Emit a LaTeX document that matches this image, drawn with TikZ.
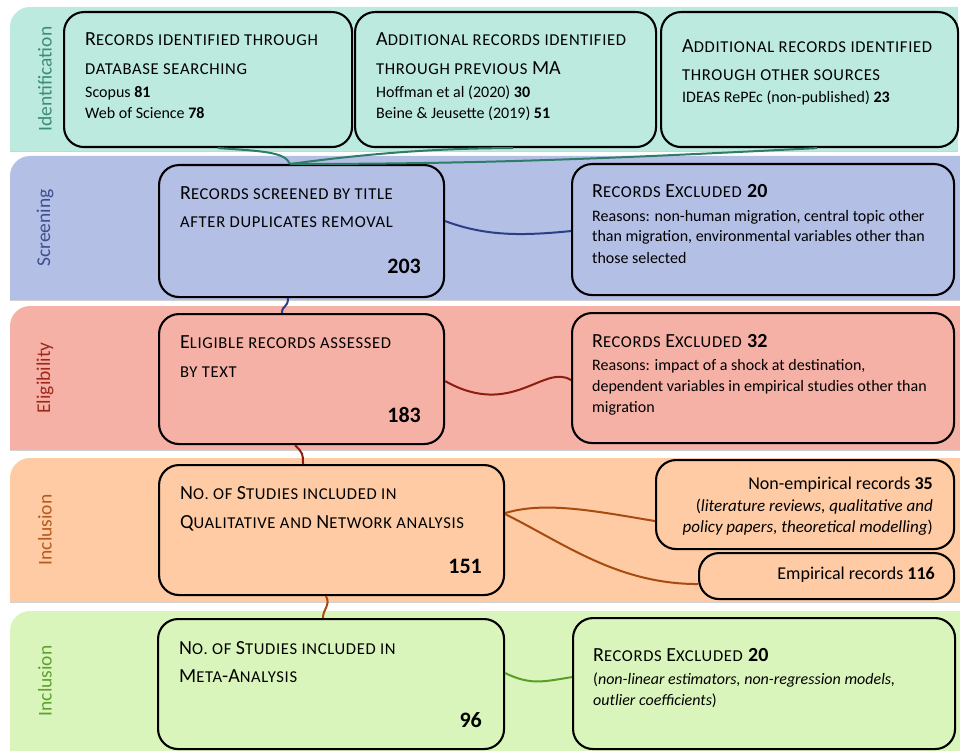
\documentclass[tikz,border=0pt]{standalone}
\usepackage{fontspec}
\setmainfont{Carlito}
\newfontfamily\scfam[LetterSpace=4]{Carlito}
\usetikzlibrary{calc}
\newcommand\fsc[1]{{\scfam\fontsize{16.6}{20}\selectfont #1}}
\definecolor{idband}{HTML}{BDEADF}
\definecolor{idtext}{HTML}{3D8C76}
\definecolor{idline}{HTML}{2E7D67}
\definecolor{scband}{HTML}{B4BFE6}
\definecolor{sctext}{HTML}{3C4F8F}
\definecolor{scline}{HTML}{2B3F86}
\definecolor{elband}{HTML}{F6B1A7}
\definecolor{eltext}{HTML}{9E2A1E}
\definecolor{elline}{HTML}{8B1E10}
\definecolor{inband}{HTML}{FECBA4}
\definecolor{intext}{HTML}{B45A1E}
\definecolor{inline}{HTML}{A84B0F}
\definecolor{maband}{HTML}{DAF5BC}
\definecolor{matext}{HTML}{5DA12E}
\definecolor{maline}{HTML}{5A9E25}
\begin{document}
\begin{tikzpicture}[x=1pt,y=-1pt,
  band/.style={draw=black!18, line width=0.8pt},
  box/.style={draw=black, line width=2.1pt, rounded corners=20pt, anchor=north west, inner sep=0pt},
  ttl/.style={anchor=base west, inner sep=0pt, font=\fontsize{20}{24}\selectfont},
  txt/.style={anchor=base west, inner sep=0pt, font=\fontsize{16}{19}\selectfont},
  txtr/.style={anchor=base east, inner sep=0pt, font=\fontsize{18}{21}\selectfont},
  txtri/.style={anchor=base east, inner sep=0pt, font=\fontsize{17}{20}\selectfont},
  num/.style={anchor=base east, inner sep=0pt, font=\fontsize{22}{26}\selectfont\bfseries},
  lab/.style={rotate=90, inner sep=0pt, font=\fontsize{19.5}{23}\selectfont},
  conn/.style={line width=2pt}]
\useasboundingbox (0,0) rectangle (960,751);
% bands
\fill[idband] (10,151) [rounded corners=20pt] -- (10,7) [sharp corners] -- (958,7) -- (958,151) -- cycle;
\draw[band] (10,151) -- (958,151);
\fill[scband] (10,300) [rounded corners=20pt] -- (10,156) [sharp corners] -- (960,156) -- (960,300) -- cycle;
\draw[band] (10,300) -- (960,300);
\fill[elband] (10,450) [rounded corners=20pt] -- (10,306) [sharp corners] -- (960,306) -- (960,450) -- cycle;
\draw[band] (10,450) -- (960,450);
\fill[inband] (10,602) [rounded corners=20pt] -- (10,458) [sharp corners] -- (960,458) -- (960,602) -- cycle;
\draw[band] (10,602) -- (960,602);
\fill[maband] (10,751) [rounded corners=20pt] -- (10,611) [sharp corners] -- (960,611) -- (960,751) -- cycle;
% band labels
\node[lab, text=idtext] (l1) at (45,79) {Identification};
\node[lab, text=sctext] (l2) at (45,228) {Screening};
\node[lab, text=eltext] (l3) at (45,378) {Eligibility};
\node[lab, text=intext] (l4) at (45,530) {Inclusion};
\node[lab, text=matext] (l5) at (45,681) {Inclusion};
% boxes
\node[box, minimum width=288pt, minimum height=135pt] (b1) at (63,11) {};
\node[box, minimum width=301pt, minimum height=135pt] (b2) at (354,11) {};
\node[box, minimum width=297pt, minimum height=135pt] (b3) at (660,11) {};
\node[box, minimum width=285pt, minimum height=132pt] (scr) at (158,164) {};
\node[box, minimum width=382pt, minimum height=131pt] (exs) at (571,163) {};
\node[box, minimum width=285pt, minimum height=130pt] (eli) at (158,313) {};
\node[box, minimum width=382pt, minimum height=130pt] (exe) at (571,312) {};
\node[box, minimum width=345pt, minimum height=130pt] (inc) at (158,464) {};
\node[box, minimum width=298pt, minimum height=89pt] (ne) at (655,459) {};
\node[box, minimum width=255pt, minimum height=46pt] (emp) at (698,552) {};
\node[box, minimum width=346pt, minimum height=130pt] (met) at (157,618) {};
\node[box, minimum width=382pt, minimum height=131pt] (exm) at (572,617) {};
% connectors
\draw[conn, idline] ($(b1.south west)+(155,0)$) .. controls +(45,3) and +(-5,-12) .. ($(scr.north west)+(132,0)$);
\draw[conn, idline] ($(b2.south west)+(159,0)$) .. controls +(-90,0) and +(60,-8) .. ($(scr.north west)+(132,0)$);
\draw[conn, idline] ($(b3.south west)+(157,0)$) .. controls +(-200,10) and +(200,0) .. ($(scr.north west)+(132,0)$);
\draw[conn, scline] ($(scr.east)+(0,-10)$) .. controls +(40,15) and +(-50,5) .. ($(exs.west)+(0,1.5)$);
\draw[conn, scline] ($(scr.south west)+(130,0)$) .. controls +(0,10) and +(0,-8) .. ($(eli.north west)+(124,0)$);
\draw[conn, elline] ($(eli.east)+(0,2)$) .. controls +(67,38) and +(-27,-17) .. ($(exe.west)+(0,2)$);
\draw[conn, elline] ($(eli.south west)+(137,0)$) .. controls +(8,8) and +(0,-10) .. ($(inc.north west)+(145,0)$);
\draw[conn, inline] ($(inc.east)+(0,-17)$) .. controls +(40,-12) and +(-60,-10) .. ($(ne.west)+(0,16.5)$);
\draw[conn, inline] ($(inc.east)+(0,-16)$) .. controls +(60,30) and +(-80,0) .. ($(emp.west)+(0,8)$);
\draw[conn, inline] ($(inc.south west)+(168,0)$) .. controls +(5,10) and +(0,-10) .. ($(met.north west)+(166,0)$);
\draw[conn, maline] ($(met.east)+(0,-11)$) .. controls +(25,12) and +(-30,5) .. ($(exm.west)+(0,-6.5)$);
% texts
\node[ttl] (t1a) at (85,46) {R\fsc{ECORDS IDENTIFIED THROUGH}};
\node[ttl] (t1b) at (85,75) {\fsc{DATABASE SEARCHING}};
\node[txt] (t1c) at (85,98) {Scopus \textbf{81}};
\node[txt] (t1d) at (85,119) {Web of Science \textbf{78}};
\node[ttl] (t2a) at (376,46) {A\fsc{DDITIONAL RECORDS IDENTIFIED}};
\node[ttl] (t2b) at (376,75) {\fsc{THROUGH PREVIOUS} MA};
\node[txt] (t2c) at (376,98) {Hoffman et al (2020) \textbf{30}};
\node[txt] (t2d) at (376,119) {Beine \& Jeusette (2019) \textbf{51}};
\node[ttl] (t3a) at (682,53) {A\fsc{DDITIONAL RECORDS IDENTIFIED}};
\node[ttl] (t3b) at (682,81) {\fsc{THROUGH OTHER SOURCES}};
\node[txt] (t3c) at (682,103) {IDEAS RePEc (non-published) \textbf{23}};
\node[ttl] (s1) at (180,200) {R\fsc{ECORDS SCREENED BY TITLE}};
\node[ttl] (s2) at (180,228) {\fsc{AFTER DUPLICATES REMOVAL}};
\node[num] (s3) at (421,273) {203};
\node[ttl] (x1) at (592,198) {R\fsc{ECORDS} E\fsc{XCLUDED} \textbf{20}};
\node[txt] (x2) at (592,222) {Reasons: non-human migration, central topic other};
\node[txt] (x3) at (592,242) {than migration, environmental variables other than};
\node[txt] (x4) at (592,263) {those selected};
\node[ttl] (e1) at (180,348) {E\fsc{LIGIBLE RECORDS ASSESSED}};
\node[ttl] (e2) at (180,377) {\fsc{BY TEXT}};
\node[num] (e3) at (421,422) {183};
\node[ttl] (y1) at (592,347) {R\fsc{ECORDS} E\fsc{XCLUDED} \textbf{32}};
\node[txt] (y2) at (592,370) {Reasons: impact of a shock at destination,};
\node[txt] (y3) at (592,391) {dependent variables in empirical studies other than};
\node[txt] (y4) at (592,412) {migration};
\node[ttl] (i1) at (180,499) {N\fsc{O. OF} S\fsc{TUDIES INCLUDED IN}};
\node[ttl] (i2) at (180,528) {Q\fsc{UALITATIVE AND} N\fsc{ETWORK ANALYSIS}};
\node[num] (i3) at (482,573) {151};
\node[txtr] (n1) at (933,489) {Non-empirical records \textbf{35}};
\node[txtri] (n2) at (933,511) {(\textit{literature reviews, qualitative and}};
\node[txtri] (n3) at (933,532) {\textit{policy papers, theoretical modelling})};
\node[txtr] (m1) at (935,579) {Empirical records \textbf{116}};
\node[ttl] (a1) at (179,654) {N\fsc{O. OF} S\fsc{TUDIES INCLUDED IN}};
\node[ttl] (a2) at (179,682) {M\fsc{ETA}-A\fsc{NALYSIS}};
\node[num] (a3) at (482,727) {96};
\node[ttl] (z1) at (593,661) {R\fsc{ECORDS} E\fsc{XCLUDED} \textbf{20}};
\node[txt] (z2) at (593,684) {(\textit{non-linear estimators, non-regression models,}};
\node[txt] (z3) at (593,705) {\textit{outlier coefficients})};
\end{tikzpicture}
\end{document}
